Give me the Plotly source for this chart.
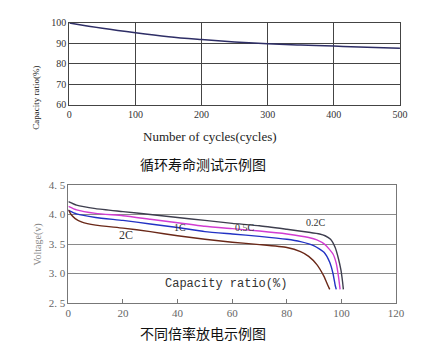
import plotly.graph_objects as go

W, H = 435, 357

# ---- data: cycle life ----
cycles = [0, 50, 100, 150, 200, 250, 300, 350, 400, 450, 500]
capacity = [100, 97.4, 95.2, 93.3, 91.9, 90.7, 89.8, 89.2, 88.7, 88.2, 87.6]

# ---- data: discharge curves ----
x_02c = [0, 3, 10, 20, 30, 40, 50, 60, 70, 80, 88, 92, 94, 96, 97.7, 98.9, 99.8, 100.4, 100.7]
v_02c = [4.22, 4.16, 4.10, 4.05, 4.00, 3.95, 3.90, 3.85, 3.81, 3.75, 3.70, 3.67, 3.64, 3.58, 3.44, 3.25, 3.06, 2.86, 2.73]

x_05c = [0, 3, 10, 20, 30, 40, 50, 60, 70, 80, 88, 91, 94, 96.9, 98.1, 98.9, 99.5]
v_05c = [4.14, 4.08, 4.02, 3.98, 3.92, 3.86, 3.80, 3.76, 3.72, 3.67, 3.61, 3.57, 3.49, 3.33, 3.17, 2.95, 2.73]

x_1c = [0, 3, 10, 20, 30, 40, 50, 60, 70, 80, 85, 90, 93.6, 95.7, 96.9, 97.7, 98.1]
v_1c = [4.07, 4.01, 3.95, 3.90, 3.84, 3.78, 3.71, 3.67, 3.63, 3.58, 3.54, 3.47, 3.36, 3.19, 3.00, 2.80, 2.73]

x_2c = [0, 1, 2.5, 5, 10, 20, 30, 40, 50, 60, 70, 80, 85, 88, 91, 93.6, 95, 95.7]
v_2c = [4.08, 4.00, 3.93, 3.87, 3.82, 3.77, 3.71, 3.64, 3.58, 3.53, 3.49, 3.44, 3.37, 3.29, 3.15, 2.95, 2.80, 2.73]

rate_labels = ["0.2C", "0.5C", "1C", "2C"]
top_xticks = [0, 100, 200, 300, 400, 500]
top_yticks = [60, 70, 80, 90, 100]
bot_xticks = [0, 20, 40, 60, 80, 100, 120]
bot_yticks = [2.5, 3.0, 3.5, 4.0, 4.5]
bot_yticktext = ["2. 5", "3. 0", "3. 5", "4. 0", "4. 5"]

def px(xp):
    return xp / W

def py(yp):
    return 1 - yp / H

fig = go.Figure()

fig.add_trace(go.Scatter(x=cycles, y=capacity, mode="lines", xaxis="x", yaxis="y",
                         line=dict(color="#2e2e66", width=1.5, shape="spline"), showlegend=False))

series = [(x_02c, v_02c, "#3e3e4e"), (x_05c, v_05c, "#d23cd2"),
          (x_1c, v_1c, "#2232c4"), (x_2c, v_2c, "#6a2818")]
for xs, vs, c in series:
    fig.add_trace(go.Scatter(x=xs, y=vs, mode="lines", xaxis="x2", yaxis="y2",
                             line=dict(color=c, width=1.4, shape="spline", smoothing=0.5),
                             showlegend=False))

serif = "Liberation Serif"
fig.update_layout(
    width=W, height=H, margin=dict(l=0, r=0, t=0, b=0),
    paper_bgcolor="white", plot_bgcolor="white",
    xaxis=dict(domain=[px(60), px(400)], range=[0, 500], tickvals=top_xticks,
               showgrid=True, gridcolor="#444", gridwidth=1, zeroline=False,
               showline=True, linecolor="#444", mirror=True, ticks="",
               tickfont=dict(family=serif, size=10, color="#333"), anchor="y"),
    yaxis=dict(domain=[py(94), py(9.3)], range=[60, 100], tickvals=top_yticks,
               showgrid=True, gridcolor="#444", gridwidth=1, zeroline=False,
               showline=True, linecolor="#444", mirror=True, ticks="",
               tickfont=dict(family=serif, size=10, color="#333"), anchor="x"),
    xaxis2=dict(domain=[px(59), px(396)], range=[0, 120], tickvals=bot_xticks,
                showgrid=False, zeroline=False, showline=True, linecolor="#777",
                mirror=True, ticks="inside", ticklen=4, tickcolor="#777",
                tickfont=dict(family=serif, size=11, color="#666"), anchor="y2"),
    yaxis2=dict(domain=[py(299), py(177)], range=[2.5, 4.5], tickvals=bot_yticks,
                ticktext=bot_yticktext,
                showgrid=True, gridcolor="#8a8a8a", gridwidth=1, zeroline=False,
                showline=True, linecolor="#777", mirror=True, ticks="",
                tickfont=dict(family=serif, size=11, color="#666"), anchor="x2"),
)

ann = []
ann.append(dict(text="Number of cycles(cycles)", x=px(205), y=py(117), xref="paper", yref="paper",
                showarrow=False, font=dict(family=serif, size=13, color="#222")))
ann.append(dict(text="Capacity ratio(%)", x=px(19), y=py(51), xref="paper", yref="paper",
                textangle=-90, showarrow=False, font=dict(family=serif, size=9, color="#222")))
ann.append(dict(text="循环寿命测试示例图", x=px(197), y=py(155), xref="paper", yref="paper",
                showarrow=False, font=dict(family="Noto Sans CJK SC", size=14, color="#111")))
ann.append(dict(text="不同倍率放电示例图", x=px(197), y=py(343), xref="paper", yref="paper",
                showarrow=False, font=dict(family="Noto Sans CJK SC", size=14, color="#111")))
ann.append(dict(text="Voltage(v)", x=px(20), y=py(238), xref="paper", yref="paper",
                textangle=-90, showarrow=False, font=dict(family=serif, size=10, color="#888")))
ann.append(dict(text="Capacity ratio(%)", x=px(221), y=py(289), xref="paper", yref="paper",
                showarrow=False, font=dict(family="Liberation Mono", size=12, color="#333")))

label_pos = [(90.8, 3.86, 10), (64.5, 3.78, 10), (41, 3.78, 10), (21, 3.65, 12)]
for lab, (lx, ly, fs) in zip(rate_labels, label_pos):
    ann.append(dict(text=lab, x=lx, y=ly, xref="x2", yref="y2", showarrow=False,
                    font=dict(family=serif, size=fs, color="#333")))

fig.update_layout(annotations=ann)
fig.write_html("out.html")
